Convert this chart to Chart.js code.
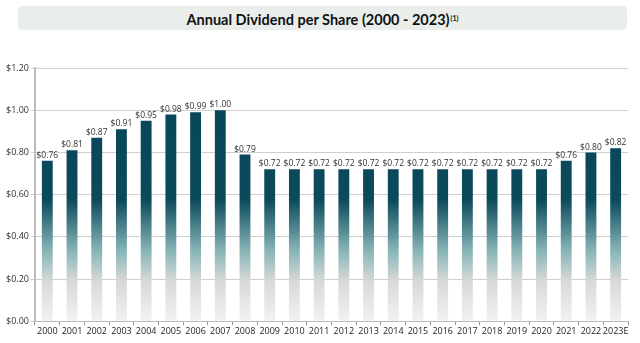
<!DOCTYPE html>
<html>
<head>
<title>Annual Dividend per Share</title>
<style type="text/css">
  body { margin: 0; background: #fff; }
  #wrap { position: relative; width: 640px; height: 343px; }
  #title {
    position: absolute; left: 18px; top: 6px; width: 609px; height: 24px;
    background: #e9eeeb; border-radius: 4px;
    font-family: "Lato", sans-serif; font-weight: bold; font-size: 14.5px;
    color: #111; text-align: center; line-height: 25px;
  }
  #title sup { font-size: 7px; vertical-align: 4px; margin-left: 1px; }
  #chart-container { position: absolute; left: 0; top: 0; width: 640px; height: 343px; }
</style>
</head>
<body>
<div id="wrap">
  <div id="chart-container">
    <canvas id="mycanvas" width="640" height="343"></canvas>
  </div>
  <div id="title">Annual Dividend per Share (2000 - 2023)<sup>(1)</sup></div>
</div>

<script src="https://cdn.jsdelivr.net/npm/chart.js@4/dist/chart.umd.min.js"></script>
<script>
var years = ['2000','2001','2002','2003','2004','2005','2006','2007','2008','2009','2010','2011',
             '2012','2013','2014','2015','2016','2017','2018','2019','2020','2021','2022','2023E'];
var dividend = [0.76, 0.81, 0.87, 0.91, 0.95, 0.98, 0.99, 1.00, 0.79, 0.72, 0.72, 0.72,
                0.72, 0.72, 0.72, 0.72, 0.72, 0.72, 0.72, 0.72, 0.72, 0.76, 0.80, 0.82];
var yTicks = [0, 0.2, 0.4, 0.6, 0.8, 1.0, 1.2];

function money(v) { return '$' + v.toFixed(2); }

// one gradient spanning the plot area, shared by every bar
function barFill(context) {
  var chart = context.chart;
  var area = chart.chartArea;
  if (!area) return '#0b4a5b';
  var g = chart.ctx.createLinearGradient(0, area.top, 0, area.bottom);
  g.addColorStop(0, '#07445a');
  g.addColorStop(0.52, '#0b4a5b');
  g.addColorStop(0.72, '#86b4b6');
  g.addColorStop(0.84, '#d8d8d8');
  g.addColorStop(1, '#f2f2f2');
  return g;
}

// value text above each bar
var valueLabels = {
  id: 'valueLabels',
  afterDatasetsDraw: function(chart) {
    var ctx = chart.ctx;
    var meta = chart.getDatasetMeta(0);
    ctx.save();
    ctx.font = '8.5px "Open Sans", sans-serif';
    ctx.fillStyle = '#333';
    ctx.textAlign = 'center';
    ctx.textBaseline = 'bottom';
    meta.data.forEach(function(bar, i) {
      ctx.fillText(money(dividend[i]), bar.x, bar.y - 1);
    });
    ctx.restore();
  }
};

var ctx = document.getElementById('mycanvas');
var barGraph = new Chart(ctx, {
  type: 'bar',
  data: {
    labels: years,
    datasets: [{
      data: dividend,
      backgroundColor: barFill,
      barPercentage: 0.44,
      categoryPercentage: 1.0
    }]
  },
  options: {
    responsive: false,
    animation: false,
    events: [],
    layout: { padding: { left: 4, right: 12, top: 68, bottom: 5 } },
    plugins: { legend: { display: false }, tooltip: { enabled: false } },
    scales: {
      x: {
        grid: { offset: true, drawOnChartArea: false, tickLength: 4, color: '#999' },
        border: { color: '#bbb' },
        ticks: { color: '#222', font: { family: 'Open Sans', size: 9 }, maxRotation: 0, autoSkip: false, padding: 1 }
      },
      y: {
        min: 0, max: 1.2,
        afterBuildTicks: function(axis) {
          axis.ticks = yTicks.map(function(v) { return { value: v }; });
        },
        grid: { color: '#cfcfcf', lineWidth: 1, tickLength: 4 },
        border: { color: '#bbb', width: 2 },
        ticks: {
          color: '#333', font: { family: 'Open Sans', size: 9 }, padding: 2,
          callback: function(v) { return money(v); }
        }
      }
    }
  },
  plugins: [valueLabels]
});
</script>
</body>
</html>
